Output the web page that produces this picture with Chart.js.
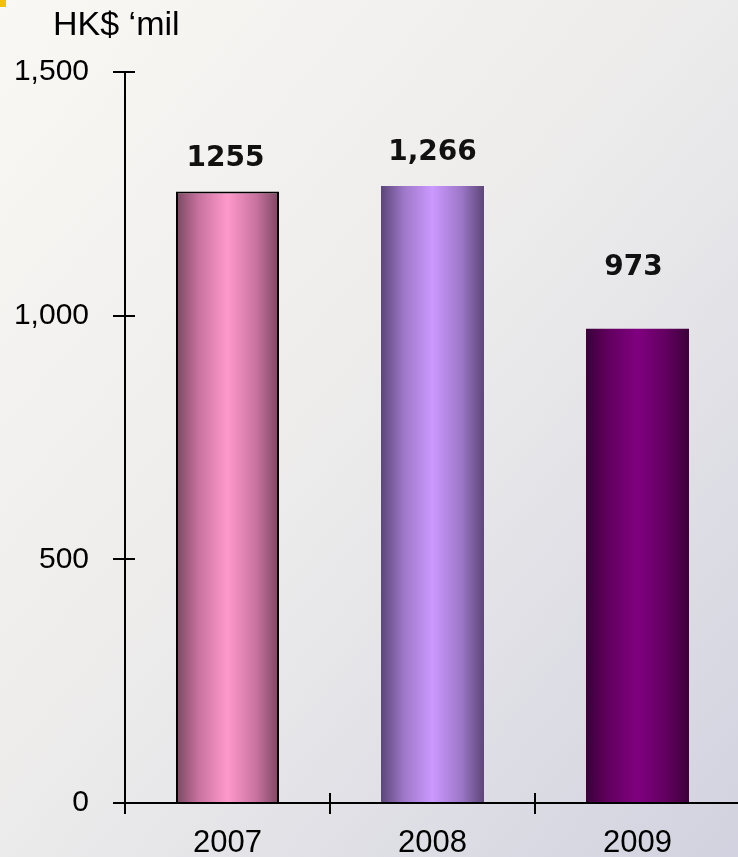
<!DOCTYPE html>
<html>
<head>
<meta charset="utf-8">
<title>HK$ 'mil 2007-2009</title>
<script src="https://cdn.jsdelivr.net/npm/chart.js@4.4.1/dist/chart.umd.min.js"></script>
<style>
  html, body { margin: 0; padding: 0; width: 738px; height: 857px; overflow: hidden; }
  body {
    position: relative;
    background: linear-gradient(to bottom right, #faf8f4 0%, #ecebeb 50%, #d2d2e0 100%);
  }
  #corner { position: absolute; left: 0; top: 0; width: 6px; height: 7px; background: #f5c000; }
  #revenueChart { position: absolute; left: 0; top: 0; }
</style>
</head>
<body>
<div id="corner"></div>
<canvas id="revenueChart" width="740" height="857"></canvas>
<script>
// Chart data
const years = ['2007', '2008', '2009'];
const revenue = [1255, 1266, 973];
const valueLabels = ['1255', '1,266', '973'];
const yMin = 0;
const yMax = 1500;
const yStep = 500;

// Styling
const TICK_FONT = '"Liberation Sans", Arial, sans-serif';
const BAR_PCT = 0.5024;
const barShades = [
  { dark: '#7a4761', mid: '#c8729f', light: '#ff99cc' },
  { dark: '#5c4677', mid: '#9d77c8', light: '#cc99ff' },
  { dark: '#3a0039', mid: '#62005f', light: '#800080' }
];

/**
 * Cylinder-like horizontal shading for each bar
 */
function barFill(context) {
  const shade = barShades[context.dataIndex] || barShades[0];
  const xScale = context.chart.scales.x;
  if (context.dataIndex === undefined || !xScale || !xScale.width) {
    return shade.light;
  }
  const center = xScale.getPixelForValue(context.dataIndex);
  const half = xScale.width / years.length * BAR_PCT / 2;
  const g = context.chart.ctx.createLinearGradient(center - half, 0, center + half, 0);
  g.addColorStop(0, shade.dark);
  g.addColorStop(0.22, shade.mid);
  g.addColorStop(0.5, shade.light);
  g.addColorStop(0.78, shade.mid);
  g.addColorStop(1, shade.dark);
  return g;
}

// Axis lines with tick marks crossing the axis
const axisLines = {
  id: 'axisLines',
  afterDatasetsDraw(chart) {
    const { ctx, scales: { x, y } } = chart;
    ctx.save();
    ctx.strokeStyle = '#000';
    ctx.lineWidth = 2;
    ctx.beginPath();
    ctx.moveTo(y.right, y.getPixelForValue(yMax));
    ctx.lineTo(y.right, x.top + 11);
    for (let v = yMin; v <= yMax; v += yStep) {
      const p = Math.round(y.getPixelForValue(v));
      ctx.moveTo(y.right - 12, p);
      ctx.lineTo(y.right + 10, p);
    }
    ctx.moveTo(y.right - 11, x.top);
    ctx.lineTo(x.right, x.top);
    const step = x.width / years.length;
    for (let i = 1; i <= years.length; i++) {
      const p = Math.round(x.left + i * step);
      ctx.moveTo(p, x.top - 10);
      ctx.lineTo(p, x.top + 11);
    }
    ctx.stroke();
    ctx.restore();
  }
};

// Value labels above the bars and the unit caption
const valueTags = {
  id: 'valueTags',
  afterDatasetsDraw(chart, args, opts) {
    const ctx = chart.ctx;
    const meta = chart.getDatasetMeta(0);
    ctx.save();
    ctx.fillStyle = '#111';
    ctx.font = 'bold 28px "DejaVu Sans", Verdana, sans-serif';
    ctx.textAlign = 'center';
    ctx.textBaseline = 'middle';
    meta.data.forEach((bar, i) => {
      ctx.fillText(valueLabels[i], bar.x + opts.shift[i], bar.y - opts.lift[i]);
    });
    ctx.font = '34px ' + TICK_FONT;
    ctx.textAlign = 'left';
    ctx.textBaseline = 'alphabetic';
    ctx.fillStyle = '#000';
    ctx.fillText('HK$ \u2018mil', 53, 35);
    ctx.restore();
  }
};

function initRevenueChart() {
  const el = document.getElementById('revenueChart');
  new Chart(el.getContext('2d'), {
    type: 'bar',
    data: {
      labels: years,
      datasets: [{
        data: revenue,
        backgroundColor: barFill,
        borderColor: '#000',
        borderWidth: [2, 0, 0],
        borderSkipped: 'bottom',
        barPercentage: BAR_PCT,
        categoryPercentage: 1
      }]
    },
    options: {
      responsive: false,
      animation: false,
      layout: { padding: { top: 72, left: 0, right: 0, bottom: 0 } },
      plugins: {
        legend: { display: false },
        tooltip: { enabled: false },
        valueTags: { lift: [33, 33, 61], shift: [-2, 0, -4] }
      },
      scales: {
        x: {
          grid: { display: false, drawTicks: false },
          border: { display: false },
          ticks: {
            color: '#000',
            font: { family: TICK_FONT, size: 31 },
            padding: 22,
            maxRotation: 0
          },
          afterFit(scale) { scale.height = 53; }
        },
        y: {
          min: yMin,
          max: yMax,
          grid: { display: false, drawTicks: false },
          border: { display: false },
          ticks: {
            stepSize: yStep,
            color: '#000',
            font: { family: TICK_FONT, size: 30 },
            padding: 36,
            callback: v => v.toLocaleString('en-US')
          },
          afterFit(scale) { scale.width = 125; }
        }
      }
    },
    plugins: [axisLines, valueTags]
  });
}

initRevenueChart();
</script>
</body>
</html>
